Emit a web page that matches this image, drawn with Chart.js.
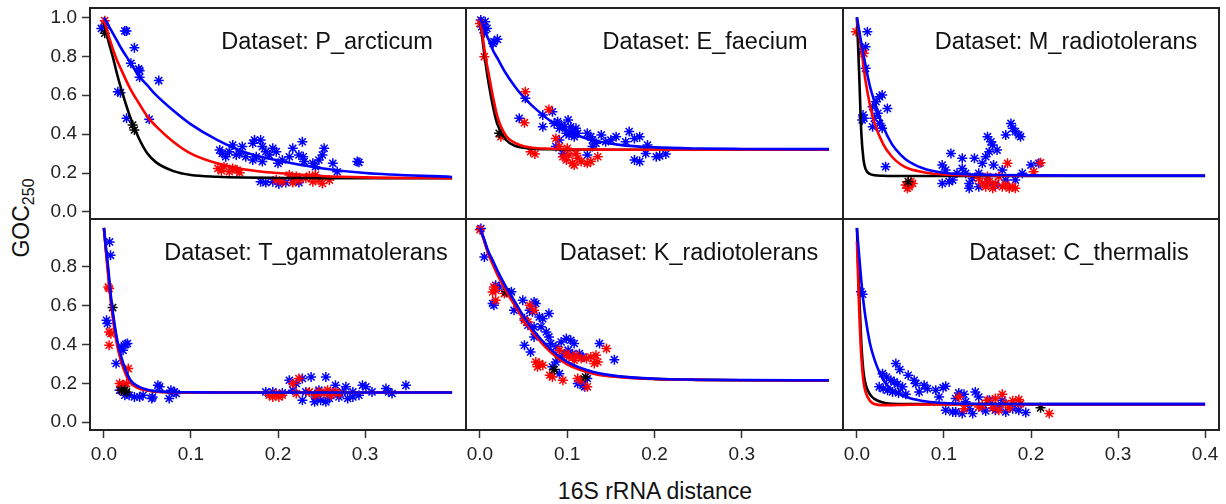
<!DOCTYPE html>
<html>
<head>
<meta charset="utf-8">
<script src="https://cdn.jsdelivr.net/npm/chart.js@4.4.1/dist/chart.umd.min.js"></script>
<style>
  body { margin: 0; background: #fff; width: 1226px; height: 504px; position: relative; overflow: hidden;
         font-family: "Liberation Sans", Arial, sans-serif; color: #111; }
  canvas { position: absolute; }
  #ytitle { position: absolute; left: 25px; top: 218px; font-size: 23px; line-height: 23px; white-space: nowrap;
            transform: translate(-50%, -50%) rotate(-90deg); }
  #ytitle sub { font-size: 16px; vertical-align: -5px; }
  #xtitle { position: absolute; left: 655px; top: 491px; font-size: 23px; white-space: nowrap;
            transform: translate(-50%, -50%); }
</style>
</head>
<body>
<div id="ytitle">GOC<sub>250</sub></div>
<div id="xtitle">16S rRNA distance</div>
<script>
const curveX = [0, 0.0025, 0.005, 0.0075, 0.01, 0.015, 0.02, 0.03, 0.04, 0.05, 0.06, 0.08, 0.1, 0.13, 0.16, 0.2, 0.25, 0.3, 0.4];

const xTicksInner = [0, 0.1, 0.2, 0.3];
const xTicksLast = [0, 0.1, 0.2, 0.3, 0.4];
const yTicksTop = [0, 0.2, 0.4, 0.6, 0.8, 1.0];
const yTicksBottom = [0, 0.2, 0.4, 0.6, 0.8];

// P_arcticum
const paBlue = [[-0.003,0.943],[0.001,0.96],[0.024,0.93],[0.026,0.93],[0.035,0.844],[0.031,0.764],[0.040,0.735],[0.041,0.726],[0.041,0.692],[0.063,0.675],[0.016,0.618],[0.019,0.613],[0.026,0.481],[0.052,0.476],
  [0.133,0.318],[0.136,0.301],[0.140,0.284],[0.144,0.310],[0.148,0.344],[0.152,0.293],[0.156,0.301],[0.159,0.336],[0.163,0.284],[0.171,0.353],[0.173,0.370],[0.180,0.370],[0.182,0.336],[0.186,0.310],[0.190,0.293],[0.194,0.327],[0.198,0.310],[0.171,0.267],[0.175,0.284],[0.182,0.259],[0.200,0.250],[0.205,0.267],[0.213,0.284],[0.217,0.327],[0.224,0.293],[0.228,0.361],[0.230,0.259],[0.229,0.284],[0.240,0.250],[0.243,0.233],[0.247,0.267],[0.251,0.293],[0.253,0.327],[0.263,0.250],[0.268,0.207],[0.291,0.259],[0.293,0.255],
  [0.180,0.156],[0.186,0.151],[0.194,0.156],[0.201,0.144],[0.209,0.151],[0.217,0.164],[0.224,0.151]];
const paRed = [[0.001,0.983],[0.131,0.224],[0.135,0.212],[0.138,0.233],[0.144,0.207],[0.148,0.224],[0.153,0.216],[0.156,0.202],[0.198,0.164],[0.205,0.156],[0.213,0.190],[0.221,0.182],[0.224,0.164],[0.232,0.173],[0.236,0.185],[0.240,0.156],[0.243,0.190],[0.247,0.164],[0.251,0.147],[0.259,0.164],[0.217,0.151]];
const paBlack = [[0.001,0.918],[0.033,0.447],[0.035,0.421]];
const paBlueFit = [1.0,0.98,0.96,0.94,0.92,0.88,0.84,0.77,0.70,0.65,0.60,0.52,0.45,0.37,0.31,0.265,0.225,0.20,0.18];
const paRedFit = [0.99,0.95,0.91,0.875,0.84,0.78,0.73,0.635,0.56,0.49,0.44,0.36,0.30,0.25,0.22,0.20,0.185,0.178,0.174];
const paBlackFit = [0.97,0.925,0.88,0.84,0.80,0.71,0.63,0.49,0.38,0.30,0.255,0.21,0.19,0.181,0.177,0.175,0.174,0.173,0.173];

// E_faecium
const efBlue = [[0.001,0.986],[0.004,0.966],[0.006,0.978],[0.008,0.943],[0.005,0.921],[0.002,0.952],[0.016,0.875],[0.020,0.887],[0.015,0.866],
  [0.052,0.584],[0.045,0.481],[0.072,0.498],[0.083,0.515],[0.072,0.438],
  [0.085,0.455],[0.089,0.464],[0.093,0.447],[0.091,0.430],[0.097,0.438],[0.101,0.473],[0.104,0.438],[0.106,0.413],[0.110,0.430],[0.102,0.396],[0.099,0.404],[0.108,0.387],[0.112,0.404],
  [0.123,0.404],[0.127,0.387],[0.129,0.370],[0.133,0.353],[0.139,0.396],[0.144,0.361],[0.150,0.370],[0.156,0.387],[0.167,0.361],[0.171,0.413],[0.177,0.378],[0.183,0.387],[0.192,0.344],[0.091,0.370],[0.087,0.336],
  [0.095,0.301],[0.123,0.293],[0.177,0.267],[0.183,0.259],[0.190,0.301],[0.202,0.284],[0.206,0.288],[0.213,0.298],[0.129,0.336]];
const efRed = [[0.0,0.969],[0.005,0.798],[0.024,0.387],[0.052,0.618],[0.051,0.459],[0.079,0.527],[0.058,0.310],[0.063,0.298],[0.087,0.378],
  [0.095,0.284],[0.099,0.267],[0.102,0.293],[0.106,0.250],[0.108,0.241],[0.112,0.276],[0.110,0.301],[0.116,0.259],[0.123,0.250],[0.127,0.259],[0.135,0.284],[0.091,0.336],[0.100,0.327]];
const efBlack = [[0.022,0.404]];
const efBlueFit = [1.0,0.97,0.94,0.91,0.885,0.83,0.79,0.71,0.645,0.59,0.545,0.47,0.415,0.368,0.345,0.332,0.326,0.324,0.323];
const efRedFit = [1.0,0.92,0.84,0.77,0.71,0.59,0.49,0.39,0.355,0.338,0.33,0.325,0.322,0.321,0.32,0.32,0.32,0.32,0.32];
const efBlackFit = [1.0,0.90,0.81,0.73,0.66,0.54,0.45,0.37,0.34,0.33,0.325,0.322,0.321,0.32,0.32,0.32,0.32,0.32,0.32];

// M_radiotolerans
const mrBlue = [[0.012,0.926],[0.010,0.849],[0.010,0.738],[0.006,0.823],[0.007,0.498],[0.008,0.481],[0.006,0.473],[0.018,0.541],[0.022,0.567],[0.026,0.592],[0.029,0.601],[0.024,0.507],[0.020,0.481],[0.026,0.455],[0.029,0.430],[0.035,0.532],[0.018,0.438],[0.033,0.233],
  [0.108,0.301],[0.121,0.276],[0.135,0.276],[0.098,0.241],[0.102,0.216],[0.110,0.164],[0.098,0.147],[0.106,0.156],[0.115,0.199],[0.121,0.224],[0.125,0.199],[0.129,0.147],[0.133,0.173],[0.140,0.199],[0.144,0.250],[0.148,0.284],[0.152,0.310],[0.156,0.344],[0.150,0.387],[0.154,0.361],[0.161,0.318],[0.157,0.241],[0.167,0.216],[0.171,0.164],[0.182,0.164],[0.171,0.396],[0.177,0.455],[0.179,0.430],[0.182,0.413],[0.186,0.396],[0.188,0.387],[0.190,0.199],[0.200,0.241],[0.209,0.250],[0.150,0.156],[0.140,0.130],[0.129,0.122],[0.159,0.139]];
const mrRed = [[-0.001,0.926],[0.008,0.815],[0.056,0.139],[0.060,0.130],[0.064,0.147],[0.058,0.122],[0.062,0.156],[0.140,0.173],[0.144,0.147],[0.148,0.130],[0.152,0.156],[0.156,0.122],[0.159,0.147],[0.163,0.182],[0.167,0.130],[0.171,0.139],[0.175,0.122],[0.179,0.130],[0.182,0.122],[0.150,0.182],[0.173,0.250],[0.203,0.207],[0.211,0.253]];
const mrBlack = [[0.059,0.156]];
const mrBlueFit = [1.0,0.935,0.87,0.81,0.75,0.645,0.57,0.44,0.35,0.295,0.258,0.218,0.202,0.193,0.19,0.188,0.187,0.187,0.187];
const mrRedFit = [0.99,0.91,0.84,0.75,0.67,0.55,0.46,0.35,0.285,0.245,0.222,0.202,0.193,0.188,0.187,0.186,0.186,0.186,0.186];
const mrBlackFit = [1.0,0.72,0.41,0.27,0.22,0.195,0.189,0.186,0.185,0.185,0.185,0.185,0.185,0.185,0.185,0.185,0.185,0.185,0.185];

// T_gammatolerans
const tgBlue = [[0.0065,0.928],[0.0076,0.859],[0.003,0.525],[0.004,0.508],[0.020,0.388],[0.025,0.401],[0.027,0.405],[0.022,0.37],[0.014,0.302],[0.018,0.165],[0.024,0.139],[0.029,0.139],[0.035,0.130],[0.041,0.130],[0.045,0.139],[0.056,0.13],[0.055,0.122],[0.062,0.19],[0.064,0.182],[0.075,0.122],[0.077,0.165],[0.081,0.156],[0.083,0.148],
  [0.186,0.156],[0.194,0.156],[0.205,0.151],[0.213,0.216],[0.217,0.165],[0.221,0.199],[0.228,0.225],[0.238,0.233],[0.228,0.113],[0.232,0.156],[0.242,0.105],[0.243,0.130],[0.247,0.165],[0.249,0.113],[0.255,0.233],[0.259,0.122],[0.263,0.156],[0.266,0.19],[0.270,0.130],[0.274,0.156],[0.278,0.182],[0.280,0.122],[0.286,0.156],[0.293,0.139],[0.297,0.19],[0.301,0.182],[0.308,0.156],[0.324,0.173],[0.327,0.156],[0.331,0.148],[0.347,0.19],[0.286,0.130],[0.255,0.105]];
const tgRed = [[0.005,0.696],[0.006,0.688],[0.006,0.465],[0.008,0.456],[0.006,0.396],[0.028,0.276],[0.018,0.199],[0.022,0.19],[0.026,0.199],[0.020,0.165],
  [0.190,0.139],[0.194,0.130],[0.198,0.148],[0.201,0.130],[0.205,0.139],[0.217,0.199],[0.224,0.225],[0.221,0.148],[0.236,0.156],[0.243,0.139],[0.247,0.156],[0.253,0.148],[0.257,0.165],[0.261,0.139],[0.266,0.156],[0.270,0.148]];
const tgBlack = [[0.010,0.59],[0.020,0.165],[0.024,0.165],[0.026,0.156]];
const tgBlueFit = [1.0,0.89,0.79,0.67,0.576,0.43,0.335,0.22,0.183,0.167,0.16,0.155,0.154,0.153,0.153,0.153,0.153,0.153,0.153];
const tgRedFit = [1.0,0.87,0.75,0.64,0.545,0.40,0.31,0.205,0.175,0.163,0.157,0.154,0.153,0.153,0.153,0.153,0.153,0.153,0.153];
const tgBlackFit = [1.0,0.88,0.77,0.655,0.56,0.415,0.322,0.212,0.179,0.165,0.158,0.154,0.153,0.153,0.153,0.153,0.153,0.153,0.153];

// K_radiotolerans
const krBlue = [[0.001,0.997],[0.005,0.851],[0.018,0.705],[0.022,0.696],[0.0145,0.611],[0.016,0.602],[0.034,0.662],[0.036,0.671],[0.049,0.628],[0.062,0.619],[0.064,0.611],[0.057,0.576],[0.060,0.568],[0.039,0.576],[0.051,0.533],[0.068,0.542],[0.072,0.533],[0.079,0.559],[0.055,0.499],[0.062,0.491],[0.070,0.491],[0.076,0.465],[0.079,0.439],[0.062,0.439],[0.051,0.396],[0.058,0.362],
  [0.081,0.405],[0.087,0.388],[0.093,0.413],[0.099,0.431],[0.104,0.422],[0.108,0.405],[0.091,0.336],[0.097,0.353],[0.101,0.371],[0.106,0.353],[0.114,0.353],[0.118,0.336],
  [0.083,0.285],[0.091,0.25],[0.112,0.199],[0.118,0.19],[0.120,0.182],[0.137,0.405],[0.154,0.322],[0.123,0.225],[0.087,0.31]];
const krRed = [[0.0,0.991],[0.016,0.696],[0.018,0.679],[0.0145,0.67],[0.018,0.628],[0.028,0.662],[0.057,0.602],[0.062,0.576],[0.051,0.525],[0.055,0.516],[0.064,0.31],[0.068,0.302],[0.072,0.293],[0.066,0.285],[0.08,0.242],[0.095,0.216],
  [0.091,0.371],[0.099,0.353],[0.102,0.336],[0.110,0.345],[0.108,0.319],[0.116,0.328],[0.122,0.328],[0.127,0.336],[0.131,0.302],[0.135,0.310],[0.133,0.345],[0.145,0.379],[0.112,0.225],[0.116,0.216],[0.123,0.182],[0.083,0.233]];
const krBlack = [[0.03,0.671],[0.085,0.271],[0.121,0.233]];
const krBlueFit = [1.0,0.97,0.94,0.905,0.875,0.83,0.78,0.695,0.62,0.545,0.48,0.38,0.31,0.258,0.236,0.224,0.219,0.217,0.216];
const krRedFit = [0.995,0.965,0.93,0.895,0.86,0.81,0.76,0.675,0.60,0.528,0.465,0.365,0.298,0.25,0.232,0.222,0.218,0.216,0.215];
const krBlackFit = [0.995,0.967,0.935,0.9,0.867,0.82,0.77,0.685,0.61,0.536,0.472,0.372,0.304,0.254,0.234,0.223,0.218,0.216,0.215];

// C_thermalis
const ctBlue = [[0.0046,0.671],[0.0065,0.659],[0.0447,0.302],[0.0493,0.271],[0.0294,0.250],[0.034,0.233],[0.039,0.216],[0.0428,0.208],[0.0466,0.196],[0.0256,0.182],[0.0302,0.173],[0.0352,0.165],[0.0409,0.156],[0.0524,0.182],[0.0589,0.242],[0.0658,0.216],[0.0677,0.199],[0.0772,0.190],[0.081,0.173],[0.0906,0.165],[0.099,0.178],[0.102,0.185],[0.0478,0.151],[0.0562,0.144],[0.0715,0.156],
  [0.0944,0.130],[0.102,0.062],[0.11,0.053],[0.1135,0.122],[0.117,0.151],[0.123,0.144],[0.125,0.105],[0.129,0.070],[0.133,0.045],[0.136,0.156],[0.140,0.130],[0.144,0.075],[0.148,0.058],[0.152,0.113],[0.156,0.087],[0.159,0.062],[0.163,0.079],[0.167,0.113],[0.171,0.053],[0.179,0.070],[0.186,0.062],[0.194,0.050],[0.1135,0.053],[0.121,0.045]];
const ctRed = [[0.117,0.130],[0.123,0.070],[0.144,0.087],[0.150,0.113],[0.156,0.075],[0.159,0.122],[0.163,0.062],[0.167,0.144],[0.171,0.096],[0.175,0.075],[0.179,0.110],[0.186,0.117],[0.188,0.096],[0.221,0.045],[0.140,0.079]];
const ctBlack = [[0.211,0.074]];
const ctBlueFit = [1.0,0.86,0.73,0.62,0.535,0.405,0.325,0.22,0.168,0.142,0.125,0.107,0.099,0.095,0.094,0.093,0.093,0.093,0.093];
const ctRedFit = [0.93,0.59,0.34,0.21,0.155,0.11,0.094,0.088,0.088,0.089,0.09,0.091,0.091,0.091,0.091,0.091,0.091,0.091,0.091];
const ctBlackFit = [1.0,0.67,0.41,0.26,0.195,0.143,0.12,0.101,0.095,0.094,0.093,0.093,0.093,0.093,0.093,0.093,0.093,0.093,0.093];

const panels = [
  { name: 'P_arcticum', blue: paBlue, red: paRed, black: paBlack, fits: [paBlackFit, paRedFit, paBlueFit] },
  { name: 'E_faecium', blue: efBlue, red: efRed, black: efBlack, fits: [efBlackFit, efRedFit, efBlueFit] },
  { name: 'M_radiotolerans', blue: mrBlue, red: mrRed, black: mrBlack, fits: [mrBlackFit, mrRedFit, mrBlueFit] },
  { name: 'T_gammatolerans', blue: tgBlue, red: tgRed, black: tgBlack, fits: [tgBlackFit, tgRedFit, tgBlueFit] },
  { name: 'K_radiotolerans', blue: krBlue, red: krRed, black: krBlack, fits: [krBlackFit, krRedFit, krBlueFit] },
  { name: 'C_thermalis', blue: ctBlue, red: ctRed, black: ctBlack, fits: [ctBlackFit, ctRedFit, ctBlueFit] }
];

// layout of the 2x3 grid (page pixels)
const colLeft = [90, 466, 843];
const colW = [376, 377, 376];
const rowTop = [8, 219];
const rowH = [211, 211];
const labelX = [237, 239, 223, 216, 223, 236];
const pad = 24;
const fontFam = '"Liberation Sans", Arial, sans-serif';

const framePlugin = {
  id: 'frame',
  afterDraw(chart, args, opts) {
    const { ctx, chartArea: a } = chart;
    ctx.save();
    ctx.strokeStyle = '#222';
    ctx.lineWidth = 2;
    ctx.strokeRect(a.left, a.top, a.right - a.left, a.bottom - a.top);
    ctx.fillStyle = '#111';
    ctx.font = '23.5px ' + fontFam;
    ctx.textAlign = 'center';
    ctx.textBaseline = 'middle';
    ctx.fillText('Dataset: ' + opts.label, a.left + opts.labelX, a.top + 35);
    ctx.restore();
  }
};

function curve(ys, color, order) {
  return {
    data: curveX.map((x, i) => ({ x: x, y: ys[i] })),
    showLine: true, borderColor: color, borderWidth: 2.6, pointRadius: 0,
    cubicInterpolationMode: 'monotone', order: order
  };
}

function stars(pts, color, order) {
  return {
    data: pts.map(p => ({ x: p[0], y: p[1] })),
    showLine: false, pointStyle: 'star', pointRadius: 5,
    borderColor: color, backgroundColor: color, pointBorderWidth: 1.5, order: order
  };
}

panels.forEach((p, i) => {
  const r = Math.floor(i / 3), c = i % 3;
  const showY = c === 0, showX = r === 1;
  const extraL = showY ? 90 : 0;
  const extraB = showX ? 50 : 0;
  const cv = document.createElement('canvas');
  const w = colW[c] + 2 * pad + extraL;
  const h = rowH[r] + 2 * pad + extraB;
  cv.width = w; cv.height = h;
  cv.style.left = (colLeft[c] - pad - extraL) + 'px';
  cv.style.top = (rowTop[r] - pad) + 'px';
  cv.style.width = w + 'px'; cv.style.height = h + 'px';
  document.body.appendChild(cv);

  const xt = c === 2 ? xTicksLast : xTicksInner;
  const yt = r === 0 ? yTicksTop : yTicksBottom;

  new Chart(cv, {
    type: 'scatter',
    data: {
      datasets: [
        stars(p.blue, '#0000ff', 6),
        stars(p.red, '#ff0000', 5),
        stars(p.black, '#000000', 4),
        curve(p.fits[0], '#000000', 3),
        curve(p.fits[1], '#ff0000', 2),
        curve(p.fits[2], '#0000ff', 1)
      ]
    },
    options: {
      responsive: false,
      animation: false,
      events: [],
      layout: { padding: pad, autoPadding: false },
      plugins: {
        legend: { display: false },
        tooltip: { enabled: false },
        frame: { label: p.name, labelX: labelX[i] }
      },
      scales: {
        x: {
          type: 'linear', min: -0.016, max: 0.416,
          display: showX,
          afterBuildTicks: s => { s.ticks = xt.map(v => ({ value: v })); },
          afterFit: s => { s.height = showX ? 50 : 0; },
          grid: { drawOnChartArea: false, drawTicks: true, tickLength: 8, tickColor: '#333', tickWidth: 1.5 },
          border: { display: false },
          ticks: { color: '#222', font: { size: 19, family: fontFam }, padding: 5, maxRotation: 0, autoSkip: false,
                   callback: v => v.toFixed(1) }
        },
        y: {
          type: 'linear',
          min: r === 0 ? -0.036 : -0.04, max: r === 0 ? 1.048 : 1.046,
          display: showY,
          afterBuildTicks: s => { s.ticks = yt.map(v => ({ value: v })); },
          afterFit: s => { s.width = showY ? 90 : 0; },
          grid: { drawOnChartArea: false, drawTicks: true, tickLength: 8, tickColor: '#333', tickWidth: 1.5 },
          border: { display: false },
          ticks: { color: '#222', font: { size: 19, family: fontFam }, padding: 5, autoSkip: false,
                   callback: v => v.toFixed(1) }
        }
      }
    },
    plugins: [framePlugin]
  });
});
</script>
</body>
</html>
